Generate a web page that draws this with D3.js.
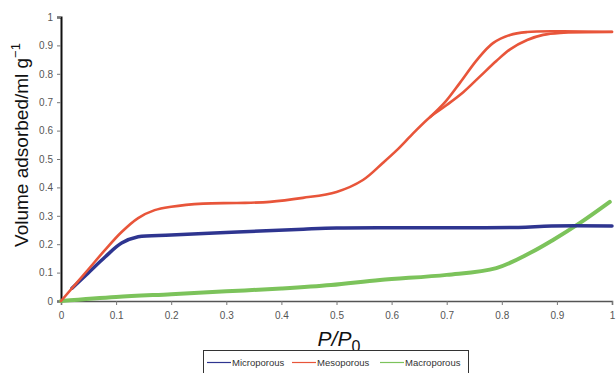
<!DOCTYPE html>
<html><head><meta charset="utf-8">
<script src="https://cdn.jsdelivr.net/npm/d3@7"></script>
<style>body{margin:0;background:#fff}svg{display:block}</style>
</head><body>
<svg id="c" width="616" height="373"></svg>
<script>
const xTicks = [0,0.1,0.2,0.3,0.4,0.5,0.6,0.7,0.8,0.9,1];
const yTicks = [0,0.1,0.2,0.3,0.4,0.5,0.6,0.7,0.8,0.9,1];
const seriesNames = ["Microporous","Mesoporous","Macroporous"];
const seriesColors = ["#2e3590","#e8553a","#7cc35b"];

const microporous = [[0.02,0.045],[0.049,0.098],[0.08,0.155],[0.11,0.204],[0.14,0.226],[0.2,0.232],[0.32,0.243],[0.44,0.253],[0.5,0.257],[0.6,0.258],[0.7,0.258],[0.83,0.259],[0.89,0.264],[1.0,0.264]];
const mesoAdsorption = [[0,0],[0.049,0.11],[0.08,0.18],[0.11,0.243],[0.14,0.292],[0.17,0.32],[0.2,0.332],[0.258,0.343],[0.319,0.345],[0.379,0.349],[0.439,0.363],[0.5,0.384],[0.548,0.426],[0.584,0.486],[0.61,0.532],[0.639,0.59],[0.67,0.648],[0.70,0.69],[0.73,0.735],[0.76,0.79],[0.79,0.845],[0.815,0.886],[0.846,0.919],[0.875,0.937],[0.906,0.944],[1.0,0.947]];
const mesoDesorption = [[0.67,0.648],[0.697,0.7],[0.724,0.768],[0.755,0.849],[0.784,0.908],[0.815,0.937],[0.846,0.947],[0.9,0.95],[1.0,0.948]];
const macroporous = [[0,0],[0.1,0.014],[0.2,0.024],[0.3,0.034],[0.4,0.044],[0.49,0.056],[0.579,0.074],[0.7,0.092],[0.79,0.116],[0.851,0.169],[0.893,0.215],[0.942,0.275],[0.996,0.349]];

const svg = d3.select("#c");
const x = d3.scaleLinear().domain([0,1]).range([61,612]);
const y = d3.scaleLinear().domain([0,1]).range([301,17]);

const gx = svg.append("g").attr("transform","translate(0,301)")
  .call(d3.axisBottom(x).tickValues(xTicks).tickSize(4).tickPadding(7).tickFormat(d3.format("")));
gx.select(".domain").attr("stroke","#555").attr("stroke-width",1.5);
gx.selectAll(".tick line").attr("stroke","#777");
gx.selectAll("text").attr("font-family","Liberation Sans, Arial, sans-serif").attr("font-size",10).attr("fill","#555");

const gy = svg.append("g").attr("transform","translate(61,0)")
  .call(d3.axisLeft(y).tickValues(yTicks).tickSize(4).tickPadding(4).tickFormat(d3.format("")));
gy.select(".domain").attr("stroke","#111").attr("stroke-width",2);
gy.selectAll(".tick line").attr("stroke","#777");
gy.selectAll("text").attr("font-family","Liberation Sans, Arial, sans-serif").attr("font-size",10).attr("fill","#555");

const line = d3.line().x(d=>x(d[0])).y(d=>y(d[1])).curve(d3.curveCatmullRom.alpha(0.5));
const g = svg.append("g").attr("fill","none").attr("stroke-linecap","round").attr("stroke-linejoin","round");
g.append("path").attr("d",line(macroporous)).attr("stroke",seriesColors[2]).attr("stroke-width",4);
g.append("path").attr("d",line(microporous)).attr("stroke",seriesColors[0]).attr("stroke-width",3.5);
g.append("path").attr("d",line(mesoAdsorption)).attr("stroke",seriesColors[1]).attr("stroke-width",2.6);
g.append("path").attr("d",line(mesoDesorption)).attr("stroke",seriesColors[1]).attr("stroke-width",2.6);

const xt = svg.append("text").attr("x",339).attr("y",346).attr("text-anchor","middle")
  .attr("font-family","Liberation Sans, Arial, sans-serif").attr("font-size",21).attr("font-style","italic").attr("fill","#111");
xt.append("tspan").text("P/P");
xt.append("tspan").attr("font-style","normal").attr("font-size",16).attr("dy",6).text("0");

const yt = svg.append("text").attr("transform","translate(28,145) rotate(-90)").attr("text-anchor","middle")
  .attr("font-family","Liberation Sans, Arial, sans-serif").attr("font-size",19).attr("fill","#111");
yt.append("tspan").text("Volume adsorbed/ml g");
yt.append("tspan").attr("font-size",13).attr("dy",-8).text("\u22121");

const lg = svg.append("g");
lg.append("rect").attr("x",203.5).attr("y",350.5).attr("width",265).attr("height",30)
  .attr("fill","#fff").attr("stroke","#333").attr("stroke-width",1);
const legX = [207,292,380];
seriesNames.forEach((n,i)=>{
  lg.append("line").attr("x1",legX[i]).attr("x2",legX[i]+24).attr("y1",362.5).attr("y2",362.5)
    .attr("stroke",seriesColors[i]).attr("stroke-width",1.2);
  lg.append("text").attr("x",legX[i]+25).attr("y",366).attr("font-family","Liberation Sans, Arial, sans-serif")
    .attr("font-size",9.5).attr("fill","#333").text(n);
});
</script>
</body></html>
